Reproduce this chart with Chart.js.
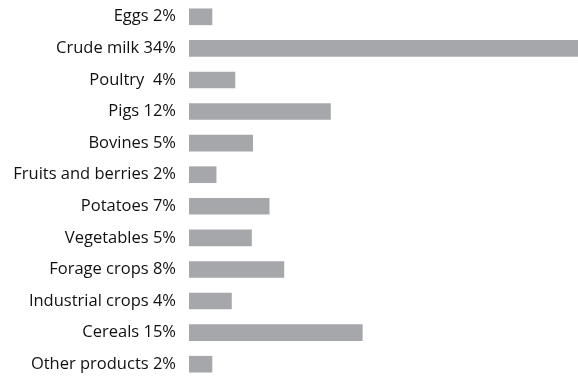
<!DOCTYPE html>
<html>
<head>
<meta charset="utf-8">
<script src="https://cdn.jsdelivr.net/npm/chart.js@4"></script>
<style>
  html, body { margin: 0; padding: 0; background: #fff; overflow: hidden; }
  #wrap { width: 578px; height: 380px; position: relative; }
</style>
</head>
<body>
<div id="wrap"><canvas id="chart"></canvas></div>
<script>
// share of agricultural output, %
const products = [
  "Eggs", "Crude milk", "Poultry ", "Pigs", "Bovines", "Fruits and berries",
  "Potatoes", "Vegetables", "Forage crops", "Industrial crops", "Cereals", "Other products"
];
const shares = [1.95, 34, 3.9, 12.0, 5.4, 2.3, 6.8, 5.3, 8.05, 3.6, 14.7, 1.95];

const labels = products.map((p, i) => `${p} ${Math.round(shares[i])}%`);

const ctx = document.getElementById("chart").getContext("2d");
new Chart(ctx, {
  type: "bar",
  data: {
    labels,
    datasets: [{
      data: shares,
      backgroundColor: "#a6a7ab",
      barThickness: 16,
      borderWidth: 0
    }]
  },
  options: {
    indexAxis: "y",
    responsive: true,
    maintainAspectRatio: false,
    animation: false,
    layout: { padding: { top: 1, right: 0, bottom: 0, left: 0 } },
    plugins: { legend: { display: false }, tooltip: { enabled: false } },
    scales: {
      x: { display: false, min: 0, max: 33 },
      y: {
        grid: { display: false, drawTicks: false },
        border: { display: false },
        ticks: {
          color: "#111",
          padding: 13,
          font: { family: "'Open Sans', sans-serif", size: 16.5 }
        },
        afterFit(scale) {
          scale.width = 189;
          // rows run edge to edge, no room reserved for label overhang
          scale.paddingTop = 0;
          scale.paddingBottom = 0;
        }
      }
    }
  }
});
</script>
</body>
</html>
